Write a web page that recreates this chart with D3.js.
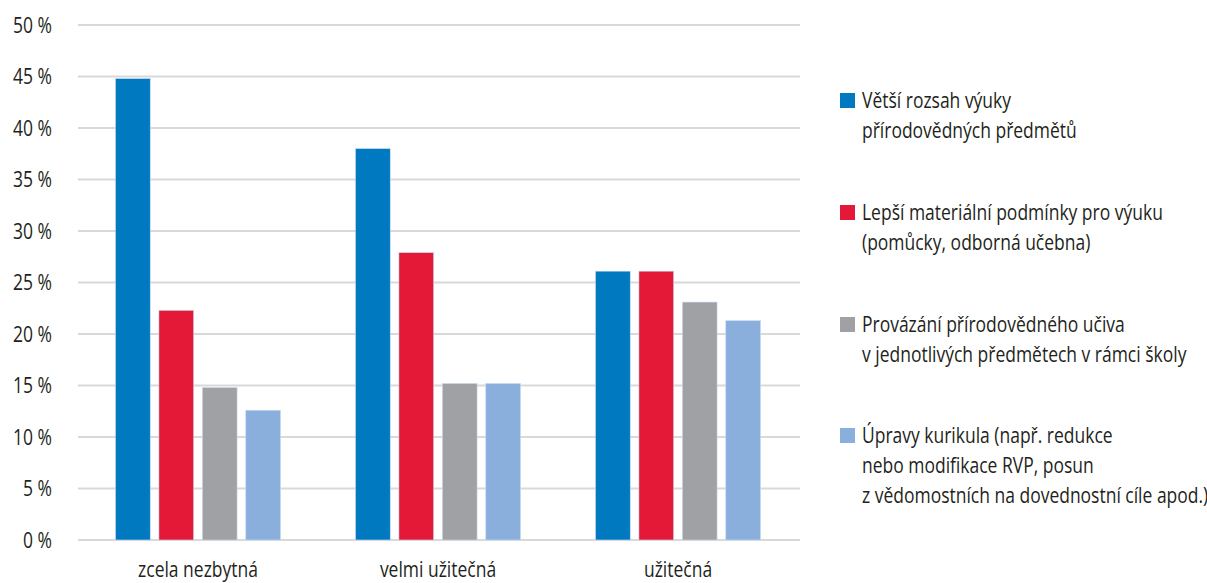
<!DOCTYPE html>
<html>
<head>
<meta charset="utf-8">
<script src="https://cdn.jsdelivr.net/npm/d3@7"></script>
<style>
  body { margin: 0; background: #fff; }
  text { font-family: "Open Sans", "Noto Sans", sans-serif; fill: #231f20; font-size: 21px; }
</style>
</head>
<body>
<script>
// Data
var categories = ["zcela nezbytná", "velmi užitečná", "užitečná"];
var seriesNames = [
	["Větší rozsah výuky", "přírodovědných předmětů"],
	["Lepší materiální podmínky pro výuku", "(pomůcky, odborná učebna)"],
	["Provázání přírodovědného učiva", "v jednotlivých předmětech v rámci školy"],
	["Úpravy kurikula (např. redukce", "nebo modifikace RVP, posun", "z vědomostních na dovednostní cíle apod.)"]
];
var seriesValues = [
	[44.8, 38.0, 26.1],
	[22.3, 27.9, 26.1],
	[14.8, 15.2, 23.1],
	[12.6, 15.2, 21.3]
];
var yTicks = [0, 5, 10, 15, 20, 25, 30, 35, 40, 45, 50];
var colors = ["#0079c1", "#e31937", "#a0a1a5", "#8aafdc"];

var width = 1207,
	height = 583;

var svg = d3.select("body").append("svg")
	.attr("width", width)
	.attr("height", height);

// The original uses a condensed face; measure a reference line and squeeze all text to match
var probe = svg.append("text").text("Lepší materiální podmínky pro výuku");
var sx = Math.min(1, 301 / probe.node().getComputedTextLength());
probe.remove();

// Scales
var x0 = d3.scaleBand()
	.domain(categories)
	.range([78, 798]);

var x1 = d3.scaleBand()
	.domain(d3.range(seriesNames.length))
	.range([37.5, x0.bandwidth() - 37.5])
	.paddingInner(0.2);

var y = d3.scaleLinear()
	.domain([0, 50])
	.range([540, 25]);

// Gridlines
svg.append("g")
	.selectAll("line")
	.data(yTicks)
	.enter().append("line")
		.attr("x1", 78)
		.attr("x2", 800)
		.attr("y1", function(d) { return y(d); })
		.attr("y2", function(d) { return y(d); })
		.style("stroke", "#d9d9d9")
		.style("stroke-width", 2);

// Y axis labels
svg.append("g")
	.selectAll("g")
	.data(yTicks)
	.enter().append("g")
		.attr("transform", function(d) { return "translate(52," + (y(d) + 7.5) + ") scale(" + sx + ",1)"; })
	.append("text")
		.attr("text-anchor", "end")
		.text(function(d) { return d + " %"; });

// Bars
var groups = svg.append("g")
	.selectAll("g")
	.data(categories)
	.enter().append("g")
		.attr("transform", function(d) { return "translate(" + x0(d) + ",0)"; });

groups.selectAll("rect")
	.data(function(d, ci) {
		return seriesValues.map(function(vals, si) { return { s: si, v: vals[ci] }; });
	})
	.enter().append("rect")
		.attr("x", function(d) { return x1(d.s); })
		.attr("width", x1.bandwidth())
		.attr("y", function(d) { return y(d.v); })
		.attr("height", function(d) { return y(0) - y(d.v); })
		.style("fill", function(d) { return colors[d.s]; })
		.style("stroke", "#c9dcef")
		.style("stroke-width", 0.6);

// Category labels
svg.append("g")
	.selectAll("g")
	.data(categories)
	.enter().append("g")
		.attr("transform", function(d) { return "translate(" + (x0(d) + x0.bandwidth() / 2) + ",577) scale(" + sx + ",1)"; })
	.append("text")
		.attr("text-anchor", "middle")
		.text(function(d) { return d; });

// Legend
var legendTop = [93, 205, 317, 428];
var legend = svg.append("g")
	.selectAll("g")
	.data(seriesNames)
	.enter().append("g")
		.attr("transform", function(d, i) { return "translate(840," + legendTop[i] + ")"; });

legend.append("rect")
	.attr("width", 15)
	.attr("height", 15)
	.style("fill", function(d, i) { return colors[i]; });

legend.append("g")
	.attr("transform", "translate(22,0) scale(" + sx + ",1)")
	.append("text")
	.selectAll("tspan")
	.data(function(d) { return d; })
	.enter().append("tspan")
		.attr("x", 0)
		.attr("y", function(d, i) { return 15 + i * 30; })
		.text(function(d) { return d; });
</script>
</body>
</html>
